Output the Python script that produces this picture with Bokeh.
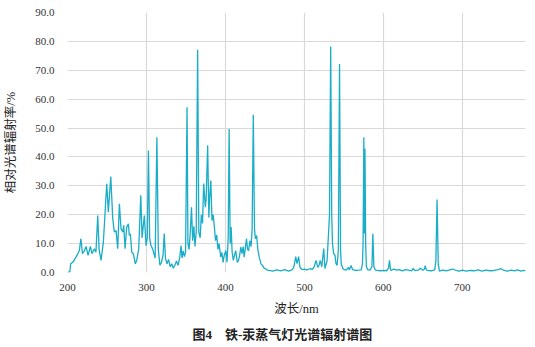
from bokeh.plotting import figure
from bokeh.models import FixedTicker, NumeralTickFormatter, Title, Range1d
from bokeh.embed import file_html
from bokeh.resources import INLINE

wavelength_nm = [
    200, 203, 204, 207, 210, 212, 215, 217, 219, 221.5, 223.5, 226, 229, 231, 234, 236,
    238.3, 240, 242.5, 245.4, 247, 249.7, 251.7, 254.8, 257.3, 259.3, 261.5, 263.6, 265.7,
    267.8, 270, 271.2, 272.9, 275, 277.1, 278.3, 279.6, 281.4, 283.4, 285.9, 287.7, 290.2,
    292.8, 294.4, 297.3, 299.5, 301, 302.5, 304, 305.5, 308, 311, 313.2, 315, 317, 319, 321,
    322.5, 324, 326, 328, 330, 332, 334, 336, 338, 340, 342, 343.8, 345, 346.5, 348, 349.5,
    351.4, 352.5, 354, 355.5, 357, 358.5, 360, 361.5, 363, 364.8, 366.3, 368, 369.5, 371,
    372.5, 374.5, 375.5, 377.5, 379, 380, 381.5, 383, 384.5, 386, 387.5, 389, 390.5, 392,
    394, 395.5, 397, 398.5, 400.5, 402, 403.5, 404.7, 406, 407.2, 408.5, 410, 411.5, 413,
    415, 416.6, 418, 419.5, 421, 422.5, 423.7, 425, 426.7, 428, 429.3, 431, 432.5, 433.8,
    435.3, 436.8, 438, 439.6, 441, 442.8, 445, 447, 449, 451, 453, 455.5, 460, 465, 470,
    475, 480, 484, 486, 487, 489, 490.6, 492.7, 494.4, 497, 500, 503, 507, 510, 512.5,
    514.7, 517, 518.5, 520, 522, 524.5, 526, 528.7, 530.3, 531.8, 533.3, 534.6, 535.6, 537,
    538.8, 540, 541.5, 543, 544.5, 545.8, 546.6, 548.6, 550.6, 553, 555.7, 557, 559, 561,
    565, 569, 572, 573.5, 574.3, 575.3, 576, 576.7, 577.6, 578.5, 580, 583, 585.5, 586.7,
    588, 590, 593, 597, 600, 604, 606.5, 607.8, 609, 610, 613, 617, 620, 624, 628, 632,
    636, 637.5, 640, 644, 647, 650, 652, 653, 654.5, 657, 661, 665, 666.5, 668, 669.5, 671,
    675, 680, 684, 688, 692, 696, 700, 705, 710, 715, 720, 725, 730, 735, 740, 745, 749,
    753, 757, 762, 766, 770, 774, 778, 780,
]

relative_radiance = [
    0, 0.3, 3, 3.6, 5, 5.9, 7.6, 11.7, 6.5, 7.6, 9, 5.9, 9, 6.5, 8.2, 7,
    19.7, 8, 4.2, 10.5, 18, 30.7, 20.9, 33.2, 18.6, 14, 14.5, 8.2, 23.8,
    15.1, 14, 16.3, 8.2, 15.7, 16.9, 12.8, 13.4, 7, 6.5, 3, 4.2, 8.2,
    26.7, 12, 19.7, 9.3, 12, 42.2, 12, 9.5, 8, 5, 46.8, 8, 2.5, 3.5, 6,
    13.5, 5, 3, 4.5, 2, 3, 1.5, 2.5, 4, 2.5, 5, 9.3, 5, 7.5, 5.5, 7,
    57.2, 10, 8, 14, 22.6, 11, 16, 9, 14, 77.1, 14, 12, 20, 17,
    30.8, 22.6, 25, 44, 19, 26, 31.8, 18, 20, 15.7, 11, 13, 8, 10,
    5.3, 7, 3.5, 6, 7.6, 3.6, 12, 49.7, 10, 15.7, 7, 4.2, 6, 7.6,
    3.5, 4.2, 6, 8.8, 6.5, 9, 5.3, 8, 11.7, 8, 7.6, 11, 9, 15,
    54.6, 15.1, 11.7, 12.8, 8, 5.3, 3, 2.4, 1.5, 1.3, 0.8, 0.7, 0.5, 0.9, 0.6,
    1.0, 0.5, 0.9, 1.5, 2.4, 5.5, 3.1, 5.5, 1.8, 1.0, 1.2, 0.9, 1.3, 1.1, 2,
    4.2, 1.8, 2.5, 4.2, 2, 8.3, 1.4, 4, 12.2, 20, 78.2, 20, 10, 6.6,
    5.9, 3.1, 2.5, 8, 72.2, 8, 3, 1.4, 1, 0.8, 1.8, 0.9, 2.4, 1,
    0.7, 0.8, 0.9, 3, 10, 46.8, 13.5, 42.8, 10, 2, 1, 0.8, 2, 13.4,
    2, 0.8, 0.7, 0.6, 0.7, 0.6, 1.5, 4.2, 1.0, 0.7, 1.2, 0.8, 1.0, 0.6, 1.0, 0.8,
    0.6, 1.4, 0.7, 0.8, 1.5, 0.8, 1.2, 2.4, 0.8, 0.7, 0.6, 0.9, 4, 25.3, 3, 0.5,
    0.8, 0.6, 0.9, 1.2, 0.7, 0.5, 0.8, 0.5, 0.7, 0.6, 0.9, 0.5, 0.8, 0.6, 0.7, 1.0, 1.3,
    0.7, 0.5, 0.8, 0.6, 0.9, 0.5, 0.7, 0.6,
]

x_ticks = [200, 300, 400, 500, 600, 700]
y_ticks = [0, 10, 20, 30, 40, 50, 60, 70, 80, 90]

x_label = "波长/nm"
y_label = "相对光谱辐射率/%"
caption = "图4\u2003铁-汞蒸气灯光谱辐射谱图"

SERIF = "Times New Roman, Liberation Serif, DejaVu Serif, serif"
LABEL_FONT = "Liberation Serif, Noto Sans CJK SC"
GRID = "#d9d9d9"

p = figure(width=535, height=347, output_backend="svg", toolbar_location=None,
           x_range=Range1d(200, 780), y_range=Range1d(0, 90),
           min_border_left=67, min_border_right=10, min_border_top=12,
           min_border_bottom=75)
p.outline_line_color = None
p.background_fill_color = "white"
p.border_fill_color = "white"

p.line(wavelength_nm, relative_radiance, line_color="#19adc8", line_width=1.3)

p.xaxis.ticker = FixedTicker(ticks=x_ticks)
p.yaxis.ticker = FixedTicker(ticks=y_ticks)
p.yaxis.formatter = NumeralTickFormatter(format="0.0")

for ax in (p.xaxis[0], p.yaxis[0]):
    ax.axis_line_color = None
    ax.major_tick_line_color = None
    ax.minor_tick_line_color = None
    ax.major_tick_out = 0
    ax.major_tick_in = 0
    ax.major_label_text_font = SERIF
    ax.major_label_text_font_size = "11px"
    ax.major_label_text_color = "#333333"
    ax.axis_label_text_font = LABEL_FONT
    ax.axis_label_text_font_style = "normal"
    ax.axis_label_text_color = "#222222"
    ax.axis_label_text_font_size = "12.5px"

p.xaxis.axis_label = x_label
p.yaxis.axis_label = y_label
p.yaxis.major_label_standoff = 13
p.yaxis.axis_label_standoff = 14
p.xaxis.major_label_standoff = 11
p.xaxis.axis_label_standoff = 8

p.xgrid.grid_line_color = GRID
p.ygrid.grid_line_color = GRID
p.xgrid.grid_line_width = 1.2
p.ygrid.grid_line_width = 1.2

t = Title(text=caption, align="left", offset=125, text_font=LABEL_FONT,
          text_font_size="13px", text_font_style="bold", text_color="#222222",
          standoff=12)
p.add_layout(t, "below")

open("out.html", "w").write(file_html(p, INLINE))
